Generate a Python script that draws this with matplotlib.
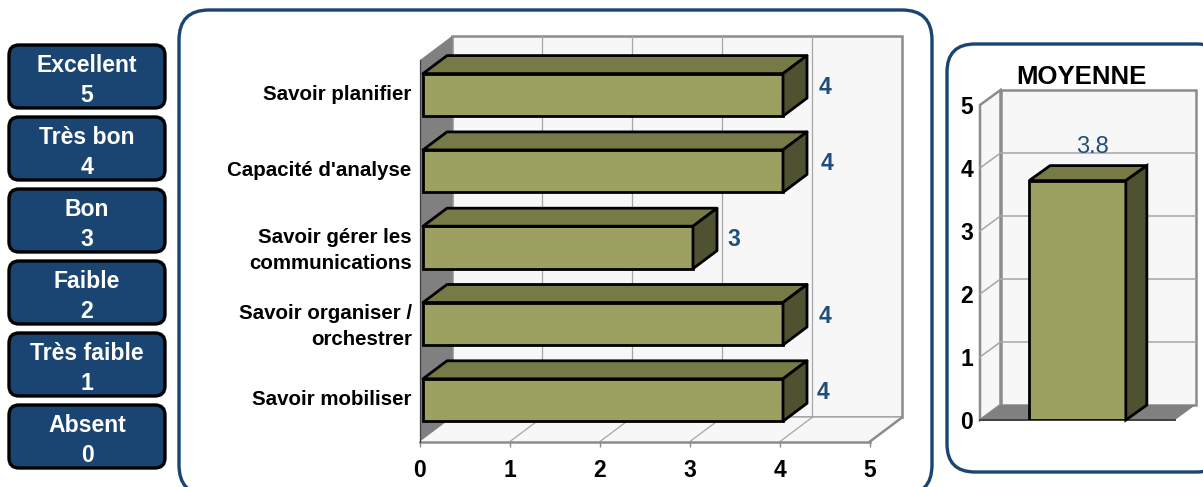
#Skills chart: horizontal 3D bars + average column + rating scale
import numpy as np
import matplotlib
matplotlib.use("Agg")
import matplotlib.pyplot as plt
from matplotlib.patches import FancyBboxPatch, Polygon
from matplotlib.transforms import Affine2D

plt.rcParams['font.family'] = ['Liberation Sans', 'DejaVu Sans']

#-----------------------------------------------------------------------#
#Data
#-----------------------------------------------------------------------#
skills = ["Savoir planifier", "Capacité d'analyse", "Savoir gérer les\ncommunications",
          "Savoir organiser /\norchestrer", "Savoir mobiliser"]
scores = [4, 4, 3, 4, 4]
xTicks = [0, 1, 2, 3, 4, 5]

avgTitle = "MOYENNE"
avgValue = [3.8]
yTicks = [0, 1, 2, 3, 4, 5]

scaleNames = ["Excellent", "Très bon", "Bon", "Faible", "Très faible", "Absent"]
scaleValues = [5, 4, 3, 2, 1, 0]

#-----------------------------------------------------------------------#
#Style
#-----------------------------------------------------------------------#
W, H = 1203, 487
NAVY = '#1a4472'
LABEL_BLUE = '#1f4e79'
WALL = '#f7f7f7'
WALL_EDGE = '#8c8c8c'
GRID = '#a6a6a6'
DARK_WALL = '#808080'
FRONT = '#9ca161'
TOP = '#767a47'
SIDE = '#4f5230'
BAR_LW = 2.0


def box(axPx):
    # pixels (left, top, right, bottom) -> figure fraction
    l, t, r, b = axPx
    return [l / W, 1 - b / H, (r - l) / W, (b - t) / H]


fig = plt.figure(figsize=(W / 100, H / 100), dpi=100, facecolor='white')

#background panels and the rating scale buttons
bg = fig.add_axes([0, 0, 1, 1], zorder=0)
bg.set_xlim(0, W)
bg.set_ylim(H, 0)
bg.axis('off')
for l, t, r, b, rad in [(179, 10, 932, 495, 30), (947, 44, 1225, 472, 28)]:
    bg.add_patch(FancyBboxPatch((l, t), r - l, b - t, boxstyle="round,pad=0,rounding_size=%d" % rad,
                                fc='white', ec=NAVY, lw=2.4))
for i, name in enumerate(scaleNames):
    top = 45 + i * 72
    bg.add_patch(FancyBboxPatch((9, top), 156, 63, boxstyle="round,pad=0,rounding_size=10",
                                fc=NAVY, ec='black', lw=2.4))
    bg.text(87, top + 20, name, color='white', fontsize=16.6, fontweight='bold', ha='center', va='center')
    bg.text(87, top + 50, str(scaleValues[i]), color='white', fontsize=16.6, fontweight='bold',
            ha='center', va='center')

#-----------------------------------------------------------------------#
#Left chart
#-----------------------------------------------------------------------#
ax = fig.add_axes(box((420, 60, 870, 441.5)), zorder=1)
ax.patch.set_visible(False)
ax.set_xlim(0, 5)
ax.set_ylim(5, 0)
for s in ax.spines.values():
    s.set_visible(False)

depthX, depthY = 32 / 90, 24 / 76.3
ax.add_patch(Polygon([(depthX, -depthY), (5 + depthX, -depthY), (5 + depthX, 5 - depthY), (depthX, 5 - depthY)],
                     fc=WALL, ec=WALL_EDGE, lw=1.8, clip_on=False, zorder=1))
ax.add_patch(Polygon([(0, 5), (depthX, 5 - depthY), (5 + depthX, 5 - depthY), (5, 5)],
                     fc=WALL, ec='none', clip_on=False, zorder=1))
ax.add_patch(Polygon([(0, 0), (depthX, -depthY), (depthX, 5 - depthY), (0, 5)],
                     fc=DARK_WALL, ec='none', clip_on=False, zorder=1.5))
for v in xTicks[1:-1]:
    ax.plot([v + depthX, v + depthX], [-depthY, 5 - depthY], color=GRID, lw=0.9, clip_on=False, zorder=1.2)
    ax.plot([v, v + depthX], [5, 5 - depthY], color=GRID, lw=0.9, clip_on=False, zorder=1.2)
ax.plot([5, 5 + depthX], [5, 5 - depthY], color=WALL_EDGE, lw=1.8, clip_on=False, zorder=1.3)
ax.plot([0, 5], [5, 5], color=WALL_EDGE, lw=1.8, clip_on=False, zorder=1.3)
ax.plot([0, 0], [0, 5], color='#404040', lw=0.9, clip_on=False, zorder=1.6)

#bars sit slightly inside the box
barShift = ax.transData + Affine2D().translate(3, 3.3)
barH = 42.5 / 76.3
barDx, barDy = 24 / 90, 18 / 76.3
yPos = np.arange(len(skills)) + 0.5
for y, val in zip(yPos, scores):
    t, b = y - barH / 2, y + barH / 2
    ax.barh(y, val, height=barH, color=FRONT, edgecolor='black', lw=BAR_LW, transform=barShift, zorder=3)
    ax.add_patch(Polygon([(0, t), (barDx, t - barDy), (val + barDx, t - barDy), (val, t)], fc=TOP, ec='black',
                         lw=BAR_LW, transform=barShift, clip_on=False, zorder=3, joinstyle='round'))
    ax.add_patch(Polygon([(val, t), (val + barDx, t - barDy), (val + barDx, b - barDy), (val, b)], fc=SIDE, ec='black',
                         lw=BAR_LW, transform=barShift, clip_on=False, zorder=3, joinstyle='round'))

#value labels, small px nudges as in the original
nudge = [45, 47, 44, 45, 43]
for y, val, n in zip(yPos, scores, nudge):
    ax.annotate(str(val), (val, y), xytext=(n, 11), textcoords='offset pixels', ha='center', va='center',
                color=LABEL_BLUE, fontsize=16.5, fontweight='bold', annotation_clip=False, zorder=4)

ax.set_xticks(xTicks)
ax.set_xticklabels([str(v) for v in xTicks], fontsize=16.5, fontweight='bold')
ax.tick_params(axis='x', length=3.5, width=1, color=WALL_EDGE, pad=9)
ax.set_yticks(yPos - 0.08)
ax.set_yticklabels(skills, fontsize=14.8, fontweight='bold', linespacing=1.48)
ax.tick_params(axis='y', length=0, pad=6)

#-----------------------------------------------------------------------#
#Right chart
#-----------------------------------------------------------------------#
ax2 = fig.add_axes(box((980, 105, 1175, 420)), zorder=1)
ax2.patch.set_visible(False)
ax2.set_xlim(0, 1)
ax2.set_ylim(0, 5)
for s in ax2.spines.values():
    s.set_visible(False)

dX, dY = 20.5 / 195, 15 / 63
ax2.add_patch(Polygon([(dX, dY), (1 + dX, dY), (1 + dX, 5 + dY), (dX, 5 + dY)], fc=WALL, ec=WALL_EDGE, lw=1.8,
                      clip_on=False, zorder=1))
ax2.add_patch(Polygon([(0, 0), (dX, dY), (dX, 5 + dY), (0, 5)], fc=WALL, ec=WALL_EDGE, lw=1.8,
                      clip_on=False, zorder=1.1))
ax2.add_patch(Polygon([(0, 0), (dX, dY), (1 + dX, dY), (1, 0)], fc=DARK_WALL, ec='none', clip_on=False, zorder=1.3))
ax2.plot([0, 1], [0, 0], color='#404040', lw=1.4, clip_on=False, zorder=1.4)
for v in yTicks[1:-1]:
    ax2.plot([dX, 1 + dX], [v + dY, v + dY], color=GRID, lw=1.1, clip_on=False, zorder=1.2)
    ax2.plot([0, dX], [v, v + dY], color=GRID, lw=1.1, clip_on=False, zorder=1.2)

colW = 96.7 / 195
bx, bY = 21 / 195, 15 / 63
l, r = 0.5 - colW / 2, 0.5 + colW / 2
val = avgValue[0]
ax2.bar([0.5], avgValue, width=colW, color=FRONT, edgecolor='black', lw=BAR_LW, zorder=3)
ax2.add_patch(Polygon([(l, val), (l + bx, val + bY), (r + bx, val + bY), (r, val)], fc=TOP, ec='black', lw=BAR_LW,
                      clip_on=False, zorder=3))
ax2.add_patch(Polygon([(r, val), (r + bx, val + bY), (r + bx, bY), (r, 0)], fc=SIDE, ec='black', lw=BAR_LW,
                      clip_on=False, zorder=3))
ax2.annotate(str(val), (0.5, val), xytext=(15, 34), textcoords='offset pixels', ha='center', va='center',
             color=LABEL_BLUE, fontsize=17, annotation_clip=False, zorder=4)

ax2.set_xticks([])
ax2.set_yticks(yTicks)
ax2.set_yticklabels([str(v) for v in yTicks], fontsize=16.5, fontweight='bold')
ax2.tick_params(axis='y', length=0, pad=5)
ax2.text(0.52, 5.45, avgTitle, transform=ax2.transData, fontsize=18.5, fontweight='bold', ha='center', va='center')

fig.savefig("out.png", dpi=100)
